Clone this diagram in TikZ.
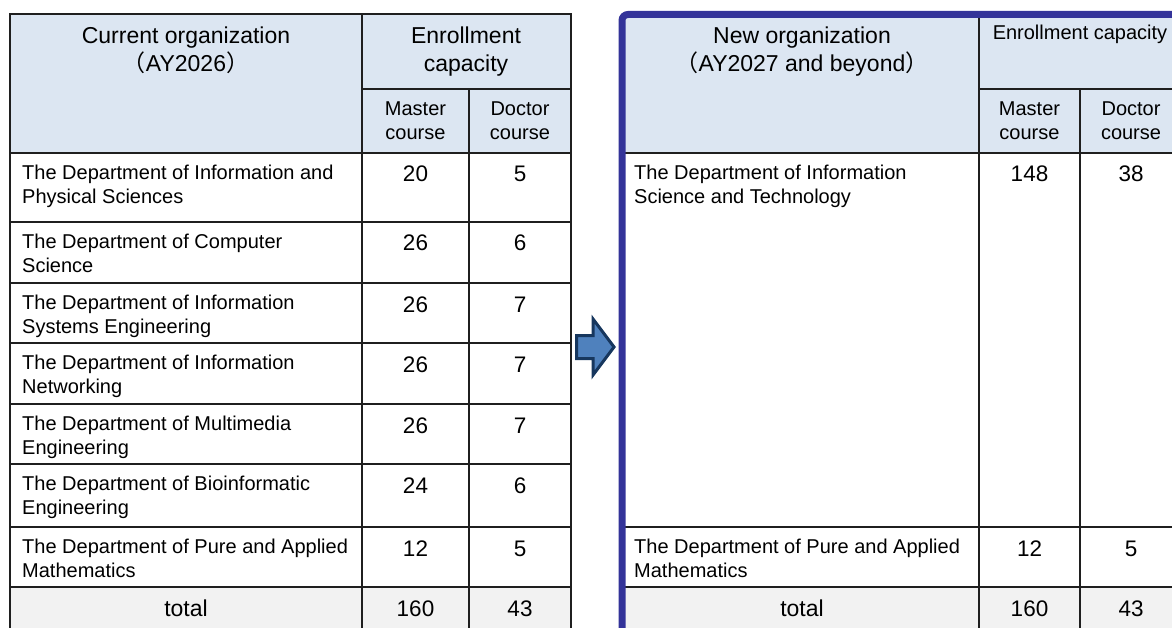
\documentclass[tikz,border=0pt]{standalone}
\usepackage{fontspec}
\setmainfont{Liberation Sans}
\newfontfamily\cjk{Noto Sans CJK JP}
\definecolor{hdr}{HTML}{DCE6F2}
\definecolor{tot}{HTML}{F2F2F2}
\definecolor{frameblue}{HTML}{333399}
\definecolor{arrowfill}{HTML}{4F81BD}
\definecolor{arrowline}{HTML}{17375E}
\newcommand{\myLP}{{\cjk （}}
\newcommand{\myRP}{{\cjk ）}}
\begin{document}
\begin{tikzpicture}[x=1pt,y=-1pt,
  gridline/.style={line width=1.4pt, black!88},
  dept/.style={anchor=north west, inner sep=0pt, align=left, font=\fontsize{20}{24}\selectfont},
  num/.style={anchor=base, inner sep=0pt, font=\fontsize{22.5}{27}\selectfont},
  head/.style={anchor=north, inner sep=0pt, align=center, font=\fontsize{23}{28}\selectfont},
  sub/.style={anchor=north, inner sep=0pt, align=center, font=\fontsize{20}{24}\selectfont}]
\useasboundingbox (0,0) rectangle (1172,628);
\clip (0,0) rectangle (1172,628);
% ---------- left table ----------
\fill[hdr] (10,14) rectangle (571,153);
\fill[tot] (10,587) rectangle (571,640);
\draw[gridline] (10,14) rectangle (571,640);
\draw[gridline] (362,14) -- (362,640);
\draw[gridline] (469,89) -- (469,640);
\draw[gridline] (362,89) -- (571,89);
\foreach \yy in {153,222,283,343,404,464,527,587}
  \draw[gridline] (10,\yy) -- (571,\yy);
% ---------- right table ----------
\fill[hdr] (622,14) rectangle (1190,153);
\fill[tot] (622,587) rectangle (1190,640);
\draw[gridline] (979,14) -- (979,640);
\draw[gridline] (1080,89) -- (1080,640);
\draw[gridline] (979,89) -- (1190,89);
\foreach \yy in {153,527,587}
  \draw[gridline] (622,\yy) -- (1190,\yy);
\draw[frameblue, line width=7pt, rounded corners=6pt] (622,640) -- (622,14.5) -- (1190,14.5);
% ---------- arrow ----------
\draw[arrowline, fill=arrowfill, line width=3pt, line join=miter]
  (576.5,335.5) -- (593,335.5) -- (593,319) -- (614,347) -- (593,375) -- (593,358.5) -- (576.5,358.5) -- cycle;
% ---------- left texts ----------
\node[head] (lh) at (186,27) {Current organization\\\myLP AY2026\myRP};
\node[head] (lec) at (466,27) {Enrollment\\capacity};
\node[sub] (lm) at (415.5,102) {Master\\course};
\node[sub] (ld) at (520,102) {Doctor\\course};
\node[dept] (l1) at (22,164.5) {The Department of Information and\\Physical Sciences};
\node[dept] (l2) at (22,233.5) {The Department of Computer\\Science};
\node[dept] (l3) at (22,294.5) {The Department of Information\\Systems Engineering};
\node[dept] (l4) at (22,354.5) {The Department of Information\\Networking};
\node[dept] (l5) at (22,415.5) {The Department of Multimedia\\Engineering};
\node[dept] (l6) at (22,475.5) {The Department of Bioinformatic\\Engineering};
\node[dept] (l7) at (22,538.5) {The Department of Pure and Applied\\Mathematics};
\node[num] (l1m) at (415.5,182) {20};  \node[num] (l1d) at (520,182) {5};
\node[num] (l2m) at (415.5,251) {26};  \node[num] (l2d) at (520,251) {6};
\node[num] (l3m) at (415.5,312) {26};  \node[num] (l3d) at (520,312) {7};
\node[num] (l4m) at (415.5,372) {26};  \node[num] (l4d) at (520,372) {7};
\node[num] (l5m) at (415.5,433) {26};  \node[num] (l5d) at (520,433) {7};
\node[num] (l6m) at (415.5,493) {24};  \node[num] (l6d) at (520,493) {6};
\node[num] (l7m) at (415.5,556) {12};  \node[num] (l7d) at (520,556) {5};
\node[num, font=\fontsize{23}{28}\selectfont] (lt) at (186,616) {total};
\node[num] (ltm) at (415.5,616) {160};  \node[num] (ltd) at (520,616) {43};
% ---------- right texts ----------
\node[head] (rh) at (802,27) {New organization\\\myLP AY2027 and beyond\myRP};
\node[sub] (rec) at (1080,25) {Enrollment capacity};
\node[sub] (rm) at (1029.5,102) {Master\\course};
\node[sub] (rd) at (1131,102) {Doctor\\course};
\node[dept] (r1) at (634,164.5) {The Department of Information\\Science and Technology};
\node[dept] (r2) at (634,538.5) {The Department of Pure and Applied\\Mathematics};
\node[num] (r1m) at (1029.5,182) {148};  \node[num] (r1d) at (1131,182) {38};
\node[num] (r2m) at (1029.5,556) {12};   \node[num] (r2d) at (1131,556) {5};
\node[num, font=\fontsize{23}{28}\selectfont] (rt) at (802,616) {total};
\node[num] (rtm) at (1029.5,616) {160};  \node[num] (rtd) at (1131,616) {43};
\end{tikzpicture}
\end{document}
